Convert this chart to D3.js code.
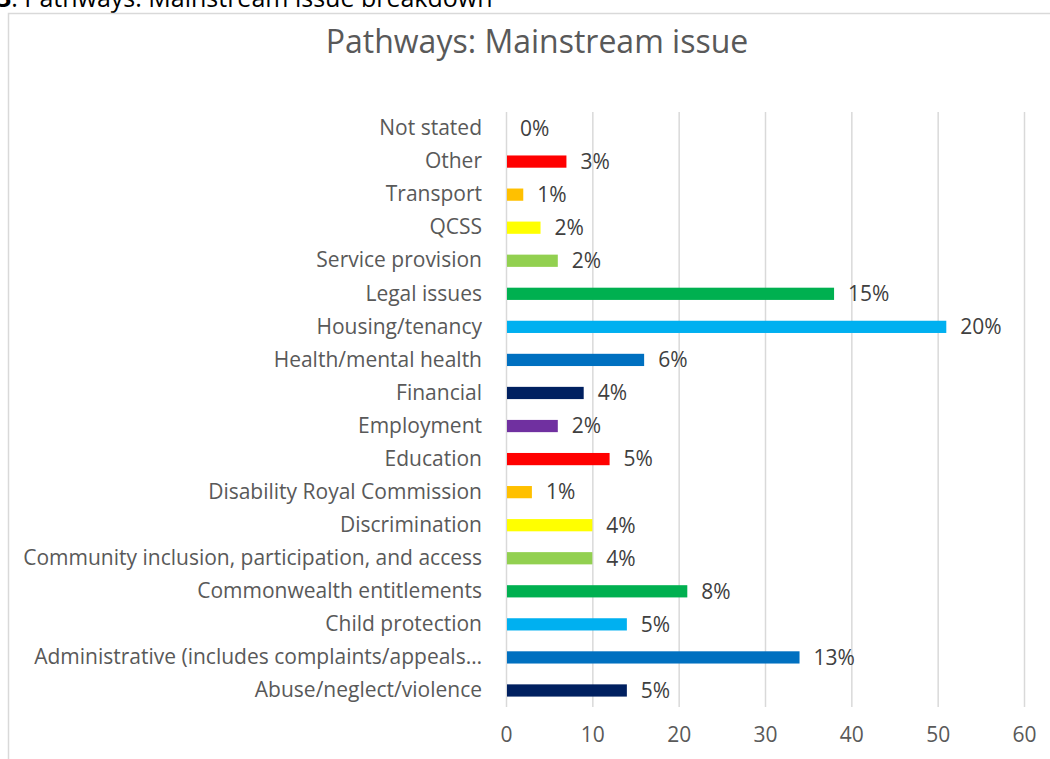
<!DOCTYPE html>
<html>
<head>
<meta charset="utf-8">
<script src="https://cdn.jsdelivr.net/npm/d3@7"></script>
<style>
    body { margin: 0; background: #fff; }
    svg { display: block; font-family: "Open Sans", Lato, sans-serif; }
</style>
</head>
<body>
<div id="chart-area"></div>
<script>
// categories listed bottom to top, as in the source chart
const categories = [
    "Abuse/neglect/violence",
    "Administrative (includes complaints/appeals…",
    "Child protection",
    "Commonwealth entitlements",
    "Community inclusion, participation, and access",
    "Discrimination",
    "Disability Royal Commission",
    "Education",
    "Employment",
    "Financial",
    "Health/mental health",
    "Housing/tenancy",
    "Legal issues",
    "Service provision",
    "QCSS",
    "Transport",
    "Other",
    "Not stated"
];
const counts = [14, 34, 14, 21, 10, 10, 3, 12, 6, 9, 16, 51, 38, 6, 4, 2, 7, 0];
const percentLabels = ["5%", "13%", "5%", "8%", "4%", "4%", "1%", "5%", "2%", "4%", "6%", "20%", "15%", "2%", "2%", "1%", "3%", "0%"];
const xTicks = [0, 10, 20, 30, 40, 50, 60];
const palette = ["#002060", "#0070C0", "#00B0F0", "#00B050", "#92D050", "#FFFF00", "#FFC000", "#FF0000", "#7030A0"];

const W = 1050;
const H = 759;
const plot = { left: 506, right: 1024, top: 112, bottom: 707 };
const labelFont = "21px";

const svg = d3.select("#chart-area")
    .append("svg")
    .attr("width", W)
    .attr("height", H);

// caption above the chart box (partly cut off at the top)
svg.append("text")
    .attr("x", -3)
    .attr("y", 7)
    .attr("font-size", "25px")
    .attr("fill", "#000")
    .html('<tspan font-weight="bold">3</tspan>: Pathways: Mainstream issue breakdown');

// chart frame
svg.append("rect")
    .attr("x", 8.5)
    .attr("y", 13.5)
    .attr("width", W + 20)
    .attr("height", H + 20)
    .attr("fill", "none")
    .attr("stroke", "#d9d9d9")
    .attr("stroke-width", 1.5);

svg.append("text")
    .attr("x", 537)
    .attr("y", 53)
    .attr("text-anchor", "middle")
    .attr("font-size", "32px")
    .attr("fill", "#595959")
    .text("Pathways: Mainstream issue");

const x = d3.scaleLinear().domain([0, 60]).range([plot.left, plot.right]);

const y = d3.scaleBand()
    .domain(categories.slice().reverse())
    .range([plot.top, plot.bottom])
    .paddingInner(0.63)
    .paddingOuter(0.315);

const color = d3.scaleOrdinal()
    .domain(categories)
    .range(categories.map((c, i) => palette[i % palette.length]));

// vertical gridlines
svg.append("g")
    .attr("class", "grid")
    .attr("transform", "translate(0," + plot.bottom + ")")
    .call(d3.axisBottom(x).tickValues(xTicks).tickSize(-(plot.bottom - plot.top)).tickFormat(""))
    .call(g => g.select(".domain").remove())
    .selectAll("line")
    .attr("stroke", "#d9d9d9")
    .attr("stroke-width", 1.5);

// bottom tick labels
svg.append("g")
    .attr("class", "bottom axis")
    .attr("transform", "translate(0," + plot.bottom + ")")
    .call(d3.axisBottom(x).tickValues(xTicks).tickSize(0).tickPadding(20))
    .call(g => g.select(".domain").remove())
    .selectAll("text")
    .attr("font-family", "'Open Sans', sans-serif")
    .attr("font-size", labelFont)
    .attr("fill", "#595959");

// category labels
svg.append("g")
    .attr("class", "left axis")
    .attr("transform", "translate(" + plot.left + ",0)")
    .call(d3.axisLeft(y).tickSize(0).tickPadding(24))
    .call(g => g.select(".domain").remove())
    .selectAll("text")
    .attr("font-family", "'Open Sans', sans-serif")
    .attr("font-size", labelFont)
    .attr("fill", "#595959");

const data = categories.map((c, i) => ({ name: c, value: counts[i], label: percentLabels[i] }));

svg.selectAll("rect.bar")
    .data(data)
    .enter()
    .append("rect")
    .attr("class", "bar")
    .attr("x", x(0) + 1)
    .attr("y", d => y(d.name))
    .attr("width", d => Math.max(0, x(d.value) - x(0) - 1))
    .attr("height", y.bandwidth())
    .attr("fill", d => color(d.name));

svg.selectAll("text.value")
    .data(data)
    .enter()
    .append("text")
    .attr("class", "value")
    .attr("x", d => x(d.value) + 14)
    .attr("y", d => y(d.name) + y.bandwidth() / 2)
    .attr("dy", "0.35em")
    .attr("font-size", labelFont)
    .attr("fill", "#404040")
    .text(d => d.label);
</script>
</body>
</html>
